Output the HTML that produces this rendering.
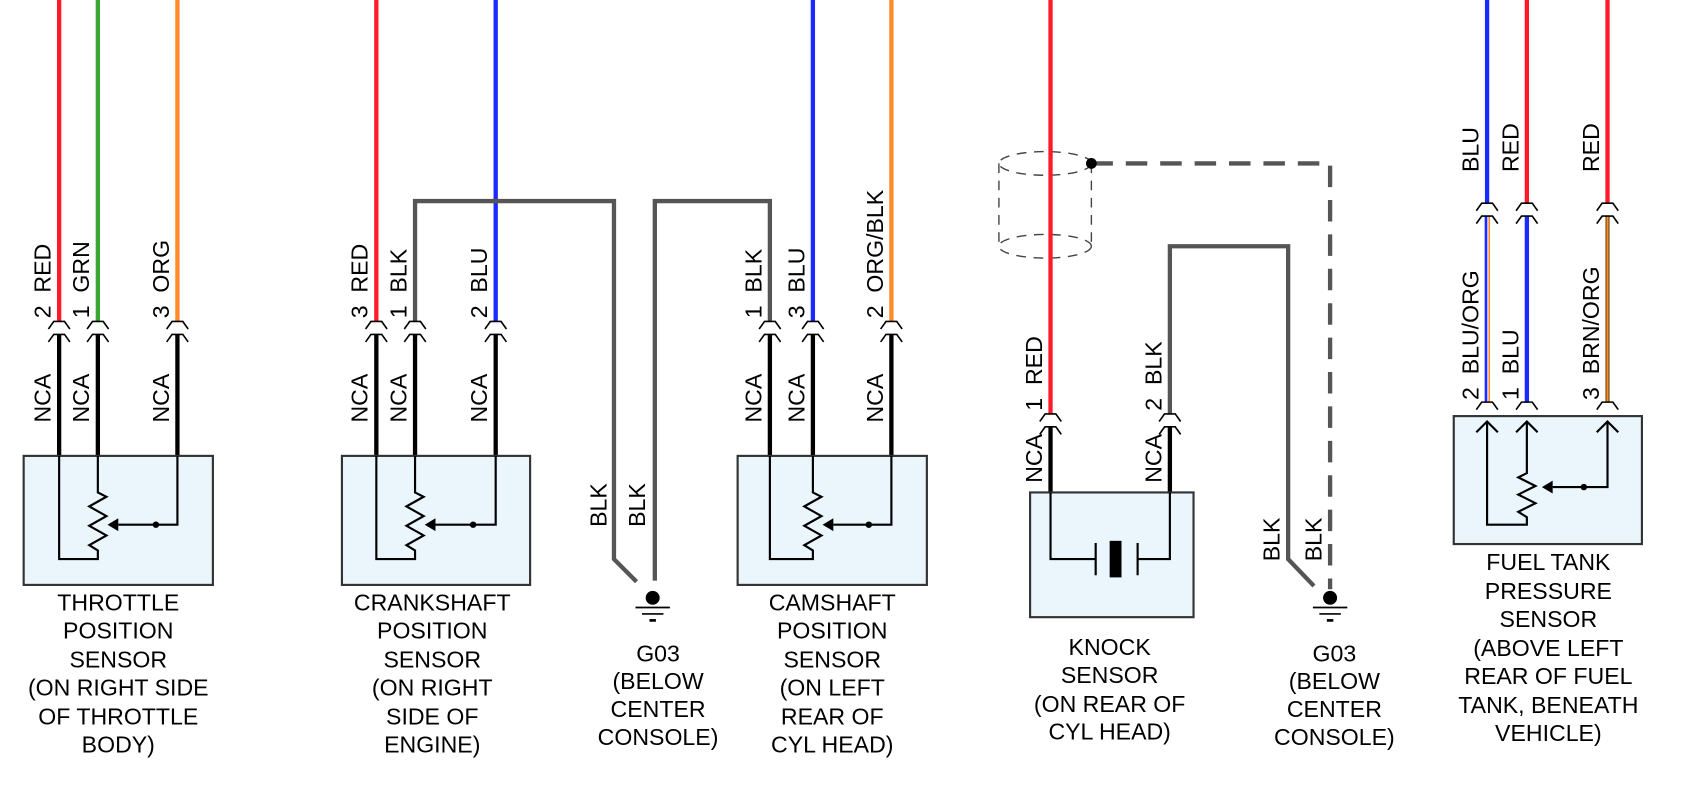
<!DOCTYPE html>
<html><head><meta charset="utf-8"><style>
html,body{margin:0;padding:0;background:#fff;}
svg{display:block;}
text{font-family:"Liberation Sans",sans-serif;font-size:21.5px;fill:#000;white-space:pre;}
.c{text-anchor:middle;}
.hat{fill:none;stroke:#000;stroke-width:1.5;}
.box{fill:#eaf5fc;stroke:#333;stroke-width:2;}
.thin{fill:none;stroke:#000;stroke-width:2;}
.blk{stroke:#000;stroke-width:4;}
.gry{fill:none;stroke:#555;stroke-width:4;}
</style></head><body>
<svg width="1686" height="792" viewBox="0 0 1568 736.6" preserveAspectRatio="none" xmlns="http://www.w3.org/2000/svg" xml:space="preserve">
<defs>
<g id="hat"><path class="hat" d="M-10 7 L-5 0 L5 0 L10 7 M-10 19 L-5 12 L5 12 L10 19"/></g>
<g id="gnd"><circle cx="0" cy="0" r="6.5" fill="#000"/><path d="M-16 9 H16 M-10 15 H10" stroke="#000" stroke-width="1.6"/><path d="M-3 21 H3" stroke="#000" stroke-width="2.5"/></g>
</defs>

<!-- THROTTLE -->
<line x1="55" y1="0" x2="55" y2="299" stroke="#ff1a2a" stroke-width="4"/>
<line x1="91" y1="0" x2="91" y2="299" stroke="#3aa632" stroke-width="4"/>
<line x1="165" y1="0" x2="165" y2="299" stroke="#ff8a2a" stroke-width="4"/>
<line class="blk" x1="55" y1="311" x2="55" y2="424"/>
<line class="blk" x1="91" y1="311" x2="91" y2="424"/>
<line class="blk" x1="165" y1="311" x2="165" y2="424"/>
<use href="#hat" x="55" y="299"/><use href="#hat" x="91" y="299"/><use href="#hat" x="165" y="299"/>
<text transform="translate(47 296) rotate(-90)">2  RED</text>
<text transform="translate(83 296) rotate(-90)">1  GRN</text>
<text transform="translate(157 296) rotate(-90)">3  ORG</text>
<text transform="translate(47 393) rotate(-90)">NCA</text>
<text transform="translate(83 393) rotate(-90)">NCA</text>
<text transform="translate(157 393) rotate(-90)">NCA</text>
<rect class="box" x="22" y="424" width="176" height="120"/>
<path class="thin" d="M55 424 V520 H91 V512 L83 507 L99 498 L83 489 L99 480 L83 471 L99 462 L91 458 V424"/>
<path class="thin" d="M165 424 V488 H110"/><path d="M100 488 L110 482 L110 494 Z"/><circle cx="145" cy="488" r="3"/>
<text class="c" x="110" y="568">THROTTLE</text>
<text class="c" x="110" y="594">POSITION</text>
<text class="c" x="110" y="621">SENSOR</text>
<text class="c" x="110" y="647">(ON RIGHT SIDE</text>
<text class="c" x="110" y="674">OF THROTTLE</text>
<text class="c" x="110" y="700">BODY)</text>

<!-- CRANKSHAFT -->
<line x1="350" y1="0" x2="350" y2="299" stroke="#ff1a2a" stroke-width="4"/>
<line x1="461" y1="0" x2="461" y2="299" stroke="#1a2aff" stroke-width="4"/>
<path class="gry" d="M386 299 V187 H571 V520 L592 541"/>
<line class="blk" x1="350" y1="311" x2="350" y2="424"/>
<line class="blk" x1="386" y1="311" x2="386" y2="424"/>
<line class="blk" x1="461" y1="311" x2="461" y2="424"/>
<use href="#hat" x="350" y="299"/><use href="#hat" x="386" y="299"/><use href="#hat" x="461" y="299"/>
<text transform="translate(342 296) rotate(-90)">3  RED</text>
<text transform="translate(378 296) rotate(-90)">1  BLK</text>
<text transform="translate(453 296) rotate(-90)">2  BLU</text>
<text transform="translate(342 393) rotate(-90)">NCA</text>
<text transform="translate(378 393) rotate(-90)">NCA</text>
<text transform="translate(453 393) rotate(-90)">NCA</text>
<rect class="box" x="318" y="424" width="175" height="120"/>
<path class="thin" d="M350 424 V520 H386 V512 L378 507 L394 498 L378 489 L394 480 L378 471 L394 462 L386 458 V424"/>
<path class="thin" d="M461 424 V488 H405"/><path d="M395 488 L405 482 L405 494 Z"/><circle cx="440" cy="488" r="3"/>
<text class="c" x="402" y="568">CRANKSHAFT</text>
<text class="c" x="402" y="594">POSITION</text>
<text class="c" x="402" y="621">SENSOR</text>
<text class="c" x="402" y="647">(ON RIGHT</text>
<text class="c" x="402" y="674">SIDE OF</text>
<text class="c" x="402" y="700">ENGINE)</text>

<!-- GROUND 1 -->
<path class="gry" d="M716 299 V187 H609 V540"/>
<use href="#gnd" x="607" y="556"/>
<text transform="translate(564 490) rotate(-90)">BLK</text>
<text transform="translate(600 490) rotate(-90)">BLK</text>
<text class="c" x="612" y="615">G03</text>
<text class="c" x="612" y="641">(BELOW</text>
<text class="c" x="612" y="667">CENTER</text>
<text class="c" x="612" y="693">CONSOLE)</text>

<!-- CAMSHAFT -->
<line x1="756" y1="0" x2="756" y2="299" stroke="#1a2aff" stroke-width="4"/>
<line x1="829" y1="0" x2="829" y2="299" stroke="#ff8a2a" stroke-width="4"/>
<line class="blk" x1="716" y1="311" x2="716" y2="424"/>
<line class="blk" x1="756" y1="311" x2="756" y2="424"/>
<line class="blk" x1="829" y1="311" x2="829" y2="424"/>
<use href="#hat" x="716" y="299"/><use href="#hat" x="756" y="299"/><use href="#hat" x="829" y="299"/>
<text transform="translate(708 296) rotate(-90)">1  BLK</text>
<text transform="translate(748 296) rotate(-90)">3  BLU</text>
<text transform="translate(821 296) rotate(-90)">2  ORG/BLK</text>
<text transform="translate(708 393) rotate(-90)">NCA</text>
<text transform="translate(748 393) rotate(-90)">NCA</text>
<text transform="translate(821 393) rotate(-90)">NCA</text>
<rect class="box" x="686" y="424" width="176" height="120"/>
<path class="thin" d="M716 424 V520 H756 V512 L748 507 L764 498 L748 489 L764 480 L748 471 L764 462 L756 458 V424"/>
<path class="thin" d="M829 424 V488 H775"/><path d="M765 488 L775 482 L775 494 Z"/><circle cx="808" cy="488" r="3"/>
<text class="c" x="774" y="568">CAMSHAFT</text>
<text class="c" x="774" y="594">POSITION</text>
<text class="c" x="774" y="621">SENSOR</text>
<text class="c" x="774" y="647">(ON LEFT</text>
<text class="c" x="774" y="674">REAR OF</text>
<text class="c" x="774" y="700">CYL HEAD)</text>

<!-- KNOCK -->
<g fill="none" stroke="#444" stroke-width="1.3" stroke-dasharray="9 7">
<ellipse cx="972" cy="152" rx="43" ry="11"/>
<ellipse cx="972" cy="229" rx="43" ry="11"/>
<line x1="929" y1="152" x2="929" y2="229"/>
<line x1="1015" y1="152" x2="1015" y2="229"/>
</g>
<line x1="977" y1="0" x2="977" y2="385" stroke="#ff1a2a" stroke-width="4"/>
<path d="M1015 152 H1237 V548" fill="none" stroke="#555" stroke-width="4" stroke-dasharray="20 12"/>
<circle cx="1015" cy="152" r="5" fill="#000"/>
<path class="gry" d="M1088 385 V229 H1198 V520 L1222 545"/>
<line class="blk" x1="977" y1="397" x2="977" y2="458"/>
<line class="blk" x1="1088" y1="397" x2="1088" y2="458"/>
<use href="#hat" x="977" y="385"/><use href="#hat" x="1088" y="385"/>
<text transform="translate(969 382) rotate(-90)">1  RED</text>
<text transform="translate(1080 382) rotate(-90)">2  BLK</text>
<text transform="translate(969 449) rotate(-90)">NCA</text>
<text transform="translate(1080 449) rotate(-90)">NCA</text>
<text transform="translate(1190 522) rotate(-90)">BLK</text>
<text transform="translate(1229 522) rotate(-90)">BLK</text>
<rect class="box" x="958" y="458" width="152" height="116"/>
<path class="thin" d="M977 458 V520 H1019 M1019 505 V535 M1058 505 V535 M1058 520 H1088 V458"/>
<rect x="1032" y="503" width="11" height="34" fill="#000"/>
<text class="c" x="1032" y="609">KNOCK</text>
<text class="c" x="1032" y="635">SENSOR</text>
<text class="c" x="1032" y="662">(ON REAR OF</text>
<text class="c" x="1032" y="688">CYL HEAD)</text>

<!-- GROUND 2 -->
<use href="#gnd" x="1237" y="556"/>
<text class="c" x="1241" y="615">G03</text>
<text class="c" x="1241" y="641">(BELOW</text>
<text class="c" x="1241" y="667">CENTER</text>
<text class="c" x="1241" y="693">CONSOLE)</text>

<!-- FUEL TANK -->
<line x1="1383" y1="0" x2="1383" y2="189" stroke="#1a2aff" stroke-width="4"/>
<line x1="1420" y1="0" x2="1420" y2="189" stroke="#ff1a2a" stroke-width="4"/>
<line x1="1495" y1="0" x2="1495" y2="189" stroke="#ff1a2a" stroke-width="4"/>
<line x1="1382" y1="201" x2="1382" y2="374" stroke="#1a2aff" stroke-width="2.5"/>
<line x1="1385" y1="201" x2="1385" y2="374" stroke="#ff8a2a" stroke-width="1.5"/>
<line x1="1420" y1="201" x2="1420" y2="374" stroke="#1a2aff" stroke-width="4"/>
<line x1="1495" y1="201" x2="1495" y2="374" stroke="#8a6020" stroke-width="4"/>
<line x1="1495" y1="201" x2="1495" y2="374" stroke="#ff8a2a" stroke-width="1.3"/>
<use href="#hat" x="1383" y="189"/><use href="#hat" x="1420" y="189"/><use href="#hat" x="1495" y="189"/>
<path class="hat" d="M1373 381 L1378 374 L1388 374 L1393 381 M1410 381 L1415 374 L1425 374 L1430 381 M1485 381 L1490 374 L1500 374 L1505 381"/>
<text transform="translate(1375 160) rotate(-90)">BLU</text>
<text transform="translate(1412 160) rotate(-90)">RED</text>
<text transform="translate(1487 160) rotate(-90)">RED</text>
<text transform="translate(1375 372) rotate(-90)">2  BLU/ORG</text>
<text transform="translate(1412 372) rotate(-90)">1  BLU</text>
<text transform="translate(1487 372) rotate(-90)">3  BRN/ORG</text>
<rect class="box" x="1352" y="387" width="175" height="119"/>
<path class="thin" d="M1373 402 L1383 392 L1393 402 M1410 402 L1420 392 L1430 402 M1485 402 L1495 392 L1505 402"/>
<path class="thin" d="M1383 392 V488 H1420 V481 L1412 476 L1428 468 L1412 460 L1428 452 L1412 444 L1420 440 V392"/>
<path class="thin" d="M1495 392 V453 H1444"/><path d="M1434 453 L1444 447 L1444 459 Z"/><circle cx="1473" cy="453" r="3"/>
<text class="c" x="1440" y="530">FUEL TANK</text>
<text class="c" x="1440" y="557">PRESSURE</text>
<text class="c" x="1440" y="583">SENSOR</text>
<text class="c" x="1440" y="610">(ABOVE LEFT</text>
<text class="c" x="1440" y="636">REAR OF FUEL</text>
<text class="c" x="1440" y="663">TANK, BENEATH</text>
<text class="c" x="1440" y="689">VEHICLE)</text>
</svg>
</body></html>
